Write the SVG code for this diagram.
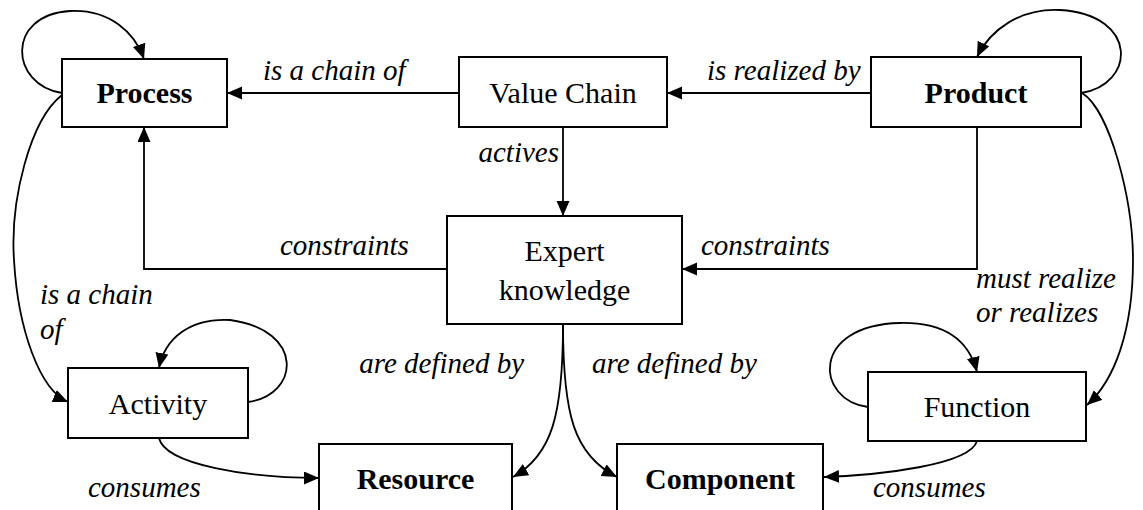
<svg xmlns="http://www.w3.org/2000/svg" width="1143" height="510" viewBox="0 0 1143 510">
  <style>
    .box { fill: #fff; stroke: #000; stroke-width: 2; }
    text { font-family: "Times New Roman", "Liberation Serif", Tinos, "Nimbus Roman", "DejaVu Serif", serif; fill: #000; }
    .node { font-size: 30px; text-anchor: middle; }
    .bold { font-weight: bold; }
    .lbl { font-size: 29px; font-style: italic; }
    .edge { fill: none; stroke: #000; stroke-width: 1.8; marker-end: url(#arr); }
  </style>
  <defs>
    <marker id="arr" markerUnits="userSpaceOnUse" markerWidth="16" markerHeight="14" refX="15" refY="6.5" orient="auto">
      <path d="M0,0 L15,6.5 L0,13 z" fill="#000"/>
    </marker>
  </defs>
  <rect width="1143" height="510" fill="#fff"/>

  <g id="connectors">
    <path class="edge" d="M459,93 H227"/>
    <path class="edge" d="M871,93 H667"/>
    <path class="edge" d="M563,127 V216"/>
    <path class="edge" d="M447,269 H144 V127"/>
    <path class="edge" d="M977,127 V269 H682"/>
    <path class="edge" d="M62,93 C10,85 5,15 70,11 C110,9 135,33 144,59"/>
    <path class="edge" d="M62,95 C30,120 10,200 14,260 C18,330 40,390 68,402"/>
    <path class="edge" d="M248,402 C300,395 305,330 230,320 C190,318 165,338 159,368"/>
    <path class="edge" d="M159,438 C165,465 250,478 319,478"/>
    <path class="edge" d="M563,324 C563,415 552,455 513,477"/>
    <path class="edge" d="M563,324 C563,415 574,455 617,477"/>
    <path class="edge" d="M1081,93 C1135,85 1140,15 1060,10 C1020,8 990,30 977,57"/>
    <path class="edge" d="M1082,93 C1110,110 1133,200 1133,260 C1133,330 1115,380 1087,405"/>
    <path class="edge" d="M868,407 C815,400 810,325 900,323 C950,322 970,345 977,372"/>
    <path class="edge" d="M977,441 C970,465 880,475 824,477"/>
  </g>

  <g id="labels" font-family="Liberation Serif, serif">
    <text class="lbl" x="263" y="80">is a chain of</text>
    <text class="lbl" x="707" y="80">is realized by</text>
    <text class="lbl" x="559" y="162" text-anchor="end">actives</text>
    <text class="lbl" x="280" y="255">constraints</text>
    <text class="lbl" x="701" y="255">constraints</text>
    <text class="lbl" x="40" y="304">is a chain</text>
    <text class="lbl" x="40" y="339">of</text>
    <text class="lbl" x="524" y="373" text-anchor="end">are defined by</text>
    <text class="lbl" x="592" y="373">are defined by</text>
    <text class="lbl" x="976" y="288">must realize</text>
    <text class="lbl" x="976" y="322">or realizes</text>
    <text class="lbl" x="88" y="497">consumes</text>
    <text class="lbl" x="873" y="497">consumes</text>
  </g>

  <g id="process">
    <rect class="box" x="62" y="59" width="165" height="68"/>
    <text class="node bold" x="144.5" y="103">Process</text>
  </g>
  <g id="value-chain">
    <rect class="box" x="459" y="57" width="208" height="70"/>
    <text class="node" x="563" y="103">Value Chain</text>
  </g>
  <g id="product">
    <rect class="box" x="871" y="57" width="210" height="70"/>
    <text class="node bold" x="976" y="103">Product</text>
  </g>
  <g id="expert-knowledge">
    <rect class="box" x="447" y="216" width="235" height="108"/>
    <text class="node" x="564.5" y="261">Expert</text>
    <text class="node" x="564.5" y="300">knowledge</text>
  </g>
  <g id="activity">
    <rect class="box" x="68" y="368" width="180" height="70"/>
    <text class="node" x="158" y="414">Activity</text>
  </g>
  <g id="function">
    <rect class="box" x="868" y="372" width="218" height="69"/>
    <text class="node" x="977" y="417">Function</text>
  </g>
  <g id="resource">
    <rect class="box" x="319" y="444" width="193" height="80"/>
    <text class="node bold" x="415.5" y="489">Resource</text>
  </g>
  <g id="component">
    <rect class="box" x="617" y="444" width="206" height="80"/>
    <text class="node bold" x="720" y="489">Component</text>
  </g>
</svg>
